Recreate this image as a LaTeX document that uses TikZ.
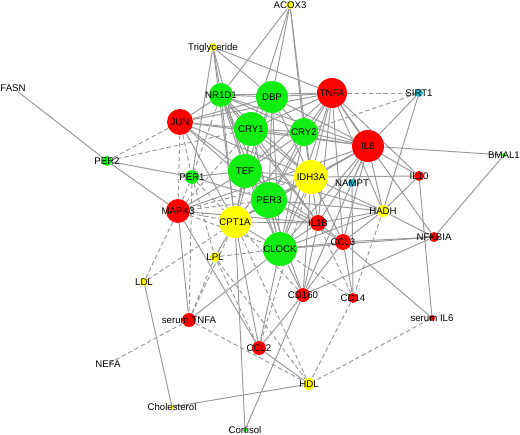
\documentclass[tikz,border=0pt]{standalone}
\usepackage{fontspec}
\setmainfont{Liberation Sans}
\usepackage{xcolor}
\usetikzlibrary{backgrounds}
\definecolor{gnred}{HTML}{FF0000}
\definecolor{gngreen}{HTML}{11EE11}
\definecolor{gnyellow}{HTML}{FFFF00}
\definecolor{gncyan}{HTML}{22BBCC}
\definecolor{gnedge}{HTML}{999999}

\begin{document}
\begin{tikzpicture}[x=0.02cm, y=-0.02cm,
  gene/.style={circle, inner sep=0pt, draw=none},
  lbl/.style={anchor=base, inner sep=0pt, font=\fontsize{5.5}{6}\selectfont, yshift=-1.95pt},
  rel/.style={draw=gnedge, line width=0.55pt},
  weak/.style={rel, dash pattern=on 2.5pt off 1.6pt}]
\useasboundingbox (0,0) rectangle (520,435);
% genes and measures
\foreach \n/\x/\y/\r/\c in {acox/290/5/4/gnyellow, trig/213/47/4/gnyellow, nr/221/95/12/gngreen,
  dbp/272/97/16/gngreen, tnfa/332/93/15/gnred, jun/180/122/13/gnred, cry1/251/129/17/gngreen,
  cry2/304/132/14/gngreen, il8/368/146/16/gnred, tef/245/171/17/gngreen, idh/311/177/17/gnyellow,
  nampt/352/183/4/gncyan, per1/192/177/7/gngreen, per2/107/161/5/gngreen, per3/269/200/18/gngreen,
  mapk/178/211/12/gnred, hadh/383/211/6/gnyellow, cpt/235/222/16/gnyellow, ilb/318/223/8/gnred,
  il10/419/176/5/gnred, clock/280/249/17/gngreen, ccl3/343/242/8/gnred, nfk/434/237/5/gnred,
  lpl/215/257/5/gnyellow, ldl/144/282/4/gnyellow, cd160/303/295/7/gnred, cd14/353/298/5/gnred,
  stnf/189/320/7/gnred, sil6/432/318/3/gnred, ccl2/259/348/7/gnred, nefa/108/364/1/white,
  hdl/309/384/6/gnyellow, chol/172/407/2/gnyellow, cort/245/430/2/gngreen, fasn/17/91/1/white,
  sirt/419/93/4/gncyan, bmal/504/155/2/gngreen}
  \node[gene, fill=\c, minimum size=\r*0.04cm] (\n) at (\x,\y) {};
\begin{scope}[on background layer]
\foreach \a/\b in {fasn/per2, per2/mapk, per2/per1,
  acox/nr, acox/cry1, acox/dbp, acox/cry2, acox/idh,
  trig/nr, trig/dbp, trig/tnfa, trig/tef, trig/per1, trig/cpt,
  nr/dbp, nr/tnfa, nr/jun, nr/cry1, nr/cry2, nr/tef, nr/per3, nr/idh, nr/cpt, nr/clock, nr/il8, nr/ilb,
  dbp/tnfa, dbp/jun, dbp/cry1, dbp/cry2, dbp/tef, dbp/per3, dbp/idh, dbp/clock, dbp/il8, dbp/cpt,
  tnfa/jun, tnfa/cry1, tnfa/cry2, tnfa/il8, tnfa/idh, tnfa/per3, tnfa/hadh, tnfa/ilb, tnfa/ccl3,
  tnfa/il10, tnfa/nfk, tnfa/clock, tnfa/tef,
  jun/cry1, jun/tef, jun/il8, jun/per3, jun/cpt, jun/idh,
  cry1/cry2, cry1/tef, cry1/per3, cry1/idh, cry1/clock, cry1/cpt, cry1/il8, cry1/ilb,
  cry2/tef, cry2/per3, cry2/idh, cry2/clock, cry2/cpt, cry2/il8,
  il8/idh, il8/per3, il8/cpt, il8/clock, il8/ilb, il8/ccl3, il8/il10, il8/hadh, il8/nampt, il8/cd160,
  il8/mapk, il8/bmal, il8/sirt,
  tef/per3, tef/idh, tef/cpt, tef/clock, tef/ilb, tef/hadh, tef/per1,
  idh/per3, idh/cpt, idh/clock, idh/hadh, idh/ilb, idh/ccl3, idh/cd160, idh/il10,
  per3/cpt, per3/clock, per3/ilb, per3/hadh, per3/ccl3, per3/cd160, per3/per1,
  cpt/clock, cpt/ilb, cpt/ccl2, cpt/lpl, cpt/cort,
  clock/ilb, clock/ccl3, clock/cd160, clock/ccl2, clock/hadh, clock/stnf, clock/nfk,
  ilb/hadh, ilb/ccl3, ilb/cd160, ccl3/hadh, ccl3/nfk, ccl3/cd160, ccl3/cd14, ccl3/sil6,
  hadh/nfk, hadh/il10, hadh/sirt, nampt/cd14, nfk/bmal, nfk/cd160, il10/sil6,
  mapk/tef, mapk/ccl2, mapk/stnf, mapk/ilb, cd160/ccl2, cd160/cort, ccl2/hdl, ldl/chol, chol/hdl}
  \draw[rel] (\a) -- (\b);
\foreach \a/\b in {jun/per2, cry1/per2, jun/mapk, tnfa/sirt, cry2/sirt, jun/per1, nr/per1,
  mapk/cpt, mapk/per3, mapk/clock, mapk/idh, mapk/ldl, mapk/per1, mapk/cry1,
  per1/stnf, per1/lpl, per1/cpt, ldl/cpt, lpl/ccl2, lpl/hdl, lpl/stnf, lpl/clock,
  stnf/nefa, stnf/hdl, stnf/cpt, hadh/cd14, cd14/hdl, sil6/hdl, cd14/ilb, cd14/clock,
  cpt/hdl, idh/ccl2, cpt/cd160}
  \draw[weak] (\a) -- (\b);
\end{scope}
\foreach \n/\t in {acox/ACOX3, trig/Triglyceride, nr/NR1D1, dbp/DBP, tnfa/TNFA, jun/JUN, cry1/CRY1,
  cry2/CRY2, il8/IL8, tef/TEF, idh/IDH3A, nampt/NAMPT, per1/PER1, per2/PER2, per3/PER3, mapk/MAPK3,
  hadh/HADH, cpt/CPT1A, ilb/IL1B, il10/IL10, clock/CLOCK, ccl3/CCL3, nfk/NFKBIA, lpl/LPL, ldl/LDL,
  cd160/CD160, cd14/CD14, stnf/serum TNFA, sil6/serum IL6, ccl2/CCL2, nefa/NEFA, hdl/HDL,
  chol/Cholesterol, cort/Cortisol, sirt/SIRT1, bmal/BMAL1}
  \node[lbl] at (\n) {\t};
\node[lbl] at ([xshift=-4*0.02cm, yshift=3*0.02cm]fasn) {FASN};
\end{tikzpicture}
\end{document}
